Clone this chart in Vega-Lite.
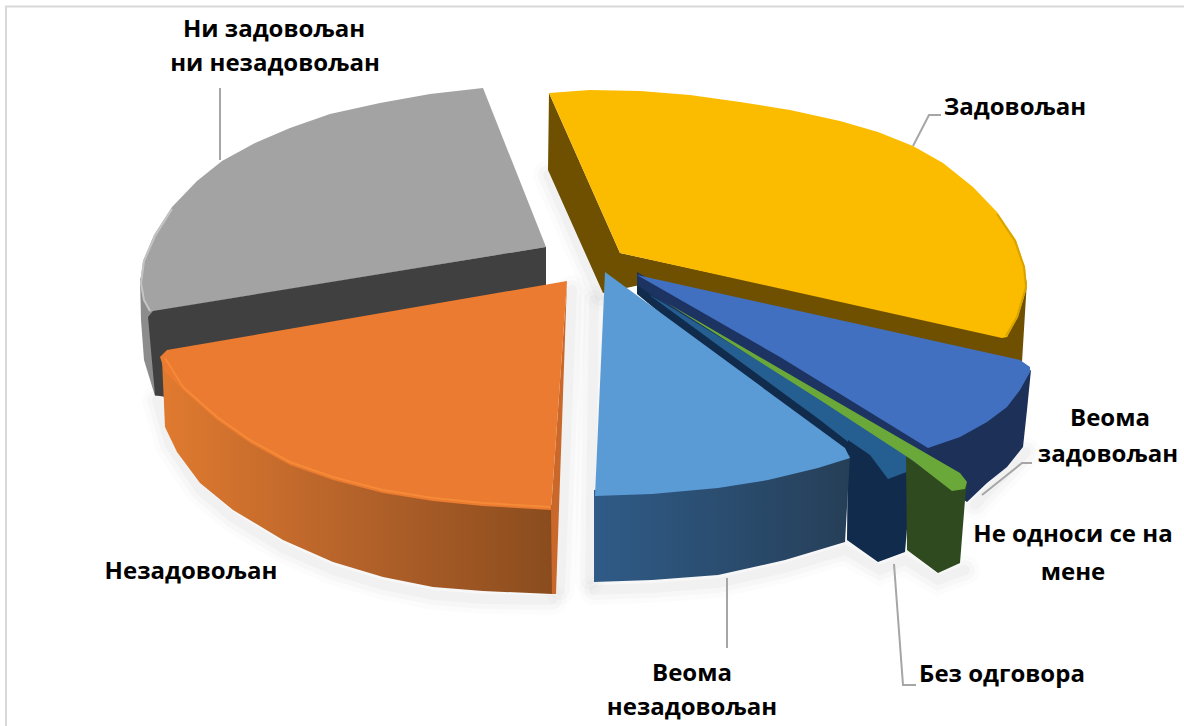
{"$schema":"https://vega.github.io/schema/vega-lite/v6.json","width":1184,"height":726,"autosize":{"type":"none"},"padding":0,"background":"white","config":{"view":{"stroke":null}},
"datasets":{
"back":[
{"shape":"grey side","p":1,"x":140,"y":278},{"shape":"grey side","p":2,"x":141,"y":320},{"shape":"grey side","p":3,"x":144,"y":360},{"shape":"grey side","p":4,"x":155,"y":396},{"shape":"grey side","p":5,"x":170,"y":396},{"shape":"grey side","p":6,"x":170,"y":300},
{"shape":"grey top","p":1,"x":483,"y":88},{"shape":"grey top","p":2,"x":430,"y":94},{"shape":"grey top","p":3,"x":380,"y":103},{"shape":"grey top","p":4,"x":330,"y":114},{"shape":"grey top","p":5,"x":290,"y":128},{"shape":"grey top","p":6,"x":255,"y":143},{"shape":"grey top","p":7,"x":222,"y":161},{"shape":"grey top","p":8,"x":197,"y":181},{"shape":"grey top","p":9,"x":172,"y":207},{"shape":"grey top","p":10,"x":154,"y":235},{"shape":"grey top","p":11,"x":143,"y":261},{"shape":"grey top","p":12,"x":140,"y":283},{"shape":"grey top","p":13,"x":143,"y":300},{"shape":"grey top","p":14,"x":150,"y":312},{"shape":"grey top","p":15,"x":546,"y":247},
{"shape":"grey face","p":1,"x":148,"y":317},{"shape":"grey face","p":2,"x":153,"y":311},{"shape":"grey face","p":3,"x":546,"y":247},{"shape":"grey face","p":4,"x":546,"y":290},{"shape":"grey face","p":5,"x":170,"y":360},{"shape":"grey face","p":6,"x":165,"y":397},{"shape":"grey face","p":7,"x":155,"y":395},
{"shape":"yellow side","p":1,"x":549,"y":93},{"shape":"yellow side","p":2,"x":548,"y":170},{"shape":"yellow side","p":3,"x":603,"y":293},{"shape":"yellow side","p":4,"x":640,"y":285},{"shape":"yellow side","p":5,"x":1022,"y":362},{"shape":"yellow side","p":6,"x":1027,"y":280},{"shape":"yellow side","p":7,"x":1007,"y":337},{"shape":"yellow side","p":8,"x":620,"y":253},
{"shape":"yellow top","p":1,"x":549,"y":93},{"shape":"yellow top","p":2,"x":590,"y":90},{"shape":"yellow top","p":3,"x":640,"y":91},{"shape":"yellow top","p":4,"x":690,"y":95},{"shape":"yellow top","p":5,"x":740,"y":102},{"shape":"yellow top","p":6,"x":790,"y":110},{"shape":"yellow top","p":7,"x":840,"y":121},{"shape":"yellow top","p":8,"x":878,"y":132},{"shape":"yellow top","p":9,"x":913,"y":146},{"shape":"yellow top","p":10,"x":943,"y":163},{"shape":"yellow top","p":11,"x":973,"y":187},{"shape":"yellow top","p":12,"x":997,"y":212},{"shape":"yellow top","p":13,"x":1016,"y":240},{"shape":"yellow top","p":14,"x":1025,"y":267},{"shape":"yellow top","p":15,"x":1027,"y":287},{"shape":"yellow top","p":16,"x":1018,"y":317},{"shape":"yellow top","p":17,"x":1007,"y":337},{"shape":"yellow top","p":18,"x":1002,"y":338},{"shape":"yellow top","p":19,"x":620,"y":253},
{"shape":"blue side","p":1,"x":1031,"y":370},{"shape":"blue side","p":2,"x":1027,"y":410},{"shape":"blue side","p":3,"x":1023,"y":447},{"shape":"blue side","p":4,"x":1007,"y":467},{"shape":"blue side","p":5,"x":987,"y":483},{"shape":"blue side","p":6,"x":967,"y":502},{"shape":"blue side","p":7,"x":915,"y":470},{"shape":"blue side","p":8,"x":928,"y":440},
{"shape":"blue face","p":1,"x":637,"y":272},{"shape":"blue face","p":2,"x":928,"y":442},{"shape":"blue face","p":3,"x":925,"y":470},{"shape":"blue face","p":4,"x":637,"y":287},
{"shape":"blue top","p":1,"x":637,"y":275},{"shape":"blue top","p":2,"x":1020,"y":360},{"shape":"blue top","p":3,"x":1030,"y":367},{"shape":"blue top","p":4,"x":1030,"y":372},{"shape":"blue top","p":5,"x":1020,"y":390},{"shape":"blue top","p":6,"x":1007,"y":407},{"shape":"blue top","p":7,"x":987,"y":422},{"shape":"blue top","p":8,"x":960,"y":437},{"shape":"blue top","p":9,"x":928,"y":448},{"shape":"blue top","p":10,"x":780,"y":357},
{"shape":"teal face","p":1,"x":637,"y":285},{"shape":"teal face","p":2,"x":870,"y":445},{"shape":"teal face","p":3,"x":870,"y":480},{"shape":"teal face","p":4,"x":850,"y":470},{"shape":"teal face","p":5,"x":637,"y":294},
{"shape":"teal top","p":1,"x":648,"y":294},{"shape":"teal top","p":2,"x":667,"y":305},{"shape":"teal top","p":3,"x":820,"y":398},{"shape":"teal top","p":4,"x":914,"y":461},{"shape":"teal top","p":5,"x":910,"y":472},{"shape":"teal top","p":6,"x":888,"y":480},{"shape":"teal top","p":7,"x":852,"y":445},{"shape":"teal top","p":8,"x":820,"y":420},
{"shape":"teal side","p":1,"x":848,"y":440},{"shape":"teal side","p":2,"x":847,"y":540},{"shape":"teal side","p":3,"x":878,"y":562},{"shape":"teal side","p":4,"x":905,"y":552},{"shape":"teal side","p":5,"x":912,"y":470},{"shape":"teal side","p":6,"x":888,"y":479},{"shape":"teal side","p":7,"x":870,"y":455},
{"shape":"green side","p":1,"x":906,"y":456},{"shape":"green side","p":2,"x":907,"y":550},{"shape":"green side","p":3,"x":938,"y":573},{"shape":"green side","p":4,"x":960,"y":563},{"shape":"green side","p":5,"x":965,"y":500},{"shape":"green side","p":6,"x":967,"y":483},{"shape":"green side","p":7,"x":950,"y":488},
{"shape":"green top","p":1,"x":667,"y":303},{"shape":"green top","p":2,"x":820,"y":392},{"shape":"green top","p":3,"x":960,"y":473},{"shape":"green top","p":4,"x":967,"y":482},{"shape":"green top","p":5,"x":965,"y":489},{"shape":"green top","p":6,"x":952,"y":491},{"shape":"green top","p":7,"x":912,"y":460},{"shape":"green top","p":8,"x":820,"y":400}
],
"orangeSide":[
{"p":1,"x":162,"y":360},{"p":2,"x":165,"y":427},{"p":3,"x":177,"y":452},{"p":4,"x":200,"y":483},{"p":5,"x":233,"y":510},{"p":6,"x":283,"y":540},{"p":7,"x":333,"y":562},{"p":8,"x":383,"y":577},{"p":9,"x":433,"y":587},{"p":10,"x":483,"y":591},{"p":11,"x":552,"y":594},{"p":12,"x":552,"y":505},{"p":13,"x":300,"y":440}
],
"lightSide":[
{"p":1,"x":594,"y":490},{"p":2,"x":594,"y":582},{"p":3,"x":652,"y":580},{"p":4,"x":718,"y":575},{"p":5,"x":785,"y":560},{"p":6,"x":845,"y":542},{"p":7,"x":850,"y":455},{"p":8,"x":700,"y":480}
],
"front":[
{"shape":"orange edge","p":1,"x":551,"y":510},{"shape":"orange edge","p":2,"x":552,"y":594},{"shape":"orange edge","p":3,"x":556,"y":594},{"shape":"orange edge","p":4,"x":567,"y":281},
{"shape":"orange top","p":1,"x":567,"y":281},{"shape":"orange top","p":2,"x":167,"y":350},{"shape":"orange top","p":3,"x":160,"y":357},{"shape":"orange top","p":4,"x":165,"y":372},{"shape":"orange top","p":5,"x":183,"y":390},{"shape":"orange top","p":6,"x":217,"y":420},{"shape":"orange top","p":7,"x":250,"y":443},{"shape":"orange top","p":8,"x":290,"y":465},{"shape":"orange top","p":9,"x":333,"y":480},{"shape":"orange top","p":10,"x":383,"y":493},{"shape":"orange top","p":11,"x":433,"y":501},{"shape":"orange top","p":12,"x":483,"y":506},{"shape":"orange top","p":13,"x":551,"y":510},
{"shape":"light top","p":1,"x":605,"y":272},{"shape":"light top","p":2,"x":845,"y":448},{"shape":"light top","p":3,"x":850,"y":458},{"shape":"light top","p":4,"x":818,"y":468},{"shape":"light top","p":5,"x":768,"y":480},{"shape":"light top","p":6,"x":718,"y":488},{"shape":"light top","p":7,"x":652,"y":494},{"shape":"light top","p":8,"x":595,"y":496}
],
"rims":[
{"rim":"orange","p":1,"x":165,"y":358},{"rim":"orange","p":2,"x":183,"y":387},{"rim":"orange","p":3,"x":217,"y":417},{"rim":"orange","p":4,"x":250,"y":440},{"rim":"orange","p":5,"x":290,"y":462},{"rim":"orange","p":6,"x":333,"y":477},{"rim":"orange","p":7,"x":383,"y":490},{"rim":"orange","p":8,"x":433,"y":498},{"rim":"orange","p":9,"x":483,"y":503},{"rim":"orange","p":10,"x":550,"y":507},
{"rim":"yellow","p":1,"x":997,"y":214},{"rim":"yellow","p":2,"x":1015,"y":241},{"rim":"yellow","p":3,"x":1024,"y":267},{"rim":"yellow","p":4,"x":1026,"y":287},{"rim":"yellow","p":5,"x":1017,"y":317},{"rim":"yellow","p":6,"x":1006,"y":336},
{"rim":"grey","p":1,"x":172,"y":209},{"rim":"grey","p":2,"x":155,"y":236},{"rim":"grey","p":3,"x":144,"y":261},{"rim":"grey","p":4,"x":141,"y":283},{"rim":"grey","p":5,"x":144,"y":300},{"rim":"grey","p":6,"x":150,"y":311}
],
"strokes":[
{"line":"frame","p":1,"x":1184,"y":6.5},{"line":"frame","p":2,"x":6,"y":6.5},{"line":"frame","p":3,"x":6,"y":726},
{"line":"l1","p":1,"x":220,"y":88},{"line":"l1","p":2,"x":220,"y":160},
{"line":"l2","p":1,"x":913,"y":146},{"line":"l2","p":2,"x":929,"y":115},{"line":"l2","p":3,"x":941,"y":115},
{"line":"l3","p":1,"x":982,"y":495},{"line":"l3","p":2,"x":1022,"y":463},{"line":"l3","p":3,"x":1032,"y":463},
{"line":"l4","p":1,"x":894,"y":564},{"line":"l4","p":2,"x":903,"y":685},{"line":"l4","p":3,"x":916,"y":685},
{"line":"l5","p":1,"x":727,"y":578},{"line":"l5","p":2,"x":727,"y":648}
],
"shadows":[
{"line":"s1","p":1,"x":157,"y":400},{"line":"s1","p":2,"x":170,"y":445},{"line":"s1","p":3,"x":200,"y":490},{"line":"s1","p":4,"x":233,"y":518},{"line":"s1","p":5,"x":283,"y":548},{"line":"s1","p":6,"x":333,"y":570},{"line":"s1","p":7,"x":383,"y":585},{"line":"s1","p":8,"x":433,"y":595},{"line":"s1","p":9,"x":483,"y":599},{"line":"s1","p":10,"x":552,"y":600},
{"line":"s2","p":1,"x":594,"y":590},{"line":"s2","p":2,"x":652,"y":588},{"line":"s2","p":3,"x":718,"y":583},{"line":"s2","p":4,"x":785,"y":568},{"line":"s2","p":5,"x":845,"y":550},{"line":"s2","p":6,"x":880,"y":570},{"line":"s2","p":7,"x":905,"y":560},{"line":"s2","p":8,"x":938,"y":580},{"line":"s2","p":9,"x":965,"y":570},
{"line":"s3","p":1,"x":548,"y":175},{"line":"s3","p":2,"x":600,"y":296},
{"line":"s4","p":1,"x":572,"y":290},{"line":"s4","p":2,"x":560,"y":590},
{"line":"s5","p":1,"x":975,"y":505},{"line":"s5","p":2,"x":1026,"y":452},
{"line":"s6","p":1,"x":594,"y":300},{"line":"s6","p":2,"x":590,"y":580}
],
"labels":[
{"label":"Ни задовољан","x":274,"y":30},{"label":"ни незадовољан","x":275,"y":64},{"label":"Задовољан","x":1015,"y":108},{"label":"Веома","x":1110,"y":419},{"label":"задовољан","x":1108,"y":455},{"label":"Не односи се на","x":1073,"y":535},{"label":"мене","x":1073,"y":573},{"label":"Незадовољан","x":191,"y":572},{"label":"Веома","x":692,"y":674},{"label":"незадовољан","x":692,"y":708},{"label":"Без одговора","x":1002,"y":675}
]},
"encoding":{
"x":{"field":"x","type":"quantitative","scale":{"domain":[0,1184]},"axis":null},
"y":{"field":"y","type":"quantitative","scale":{"domain":[726,0]},"axis":null}
},
"resolve":{"scale":{"fill":"independent","stroke":"independent"}},
"layer":[
{"data":{"name":"shadows"},"mark":{"type":"line","stroke":"#000000","strokeWidth":30,"opacity":0.012,"strokeCap":"round"},"encoding":{"detail":{"field":"line"},"order":{"field":"p"}}},
{"data":{"name":"shadows"},"mark":{"type":"line","stroke":"#000000","strokeWidth":20,"opacity":0.018,"strokeCap":"round"},"encoding":{"detail":{"field":"line"},"order":{"field":"p"}}},
{"data":{"name":"shadows"},"mark":{"type":"line","stroke":"#000000","strokeWidth":10,"opacity":0.025,"strokeCap":"round"},"encoding":{"detail":{"field":"line"},"order":{"field":"p"}}},
{"data":{"name":"back"},"mark":{"type":"line","strokeWidth":0},"encoding":{"order":{"field":"p"},"fill":{"field":"shape","type":"nominal","legend":null,"scale":{"domain":["grey side","grey top","grey face","yellow side","yellow top","blue side","blue face","blue top","teal face","teal top","teal side","green side","green top"],"range":["#8c8c8c","#a3a3a3","#404040","#6f5000","#fbbc00","#1d3158","#1d3361","#4270c0","#112b4c","#255e91","#112b4c","#2f4a1e","#6aa83a"]}}}},
{"data":{"name":"orangeSide"},"mark":{"type":"line","strokeWidth":0,"fill":{"gradient":"linear","x1":0,"y1":0,"x2":1,"y2":0,"stops":[{"offset":0,"color":"#e07a2f"},{"offset":0.5,"color":"#b4622a"},{"offset":1,"color":"#8a4c1e"}]}},"encoding":{"order":{"field":"p"}}},
{"data":{"name":"lightSide"},"mark":{"type":"line","strokeWidth":0,"fill":{"gradient":"linear","x1":0,"y1":0,"x2":1,"y2":0,"stops":[{"offset":0,"color":"#2f5b87"},{"offset":1,"color":"#263f58"}]}},"encoding":{"order":{"field":"p"}}},
{"data":{"name":"front"},"mark":{"type":"line","strokeWidth":0},"encoding":{"order":{"field":"p"},"fill":{"field":"shape","type":"nominal","legend":null,"scale":{"domain":["orange edge","orange top","light top"],"range":["#c9682a","#ea7b30","#5b9bd5"]}}}},
{"data":{"name":"rims"},"mark":{"type":"line","strokeWidth":2},"encoding":{"order":{"field":"p"},"stroke":{"field":"rim","type":"nominal","legend":null,"scale":{"domain":["orange","yellow","grey"],"range":["#f58a38","#d9a300","#c4c4c4"]}}}},
{"data":{"name":"strokes"},"mark":{"type":"line","stroke":"#d9d9d9","strokeWidth":2},"transform":[{"filter":"datum.line==='frame'"}],"encoding":{"order":{"field":"p"}}},
{"data":{"name":"strokes"},"mark":{"type":"line","stroke":"#a6a6a6","strokeWidth":2},"transform":[{"filter":"datum.line!=='frame'"}],"encoding":{"detail":{"field":"line"},"order":{"field":"p"}}},
{"data":{"name":"labels"},"mark":{"type":"text","font":"Open Sans","fontWeight":"bold","fontSize":24,"color":"#000000","align":"center","baseline":"middle"},"encoding":{"text":{"field":"label"}}}
]}
